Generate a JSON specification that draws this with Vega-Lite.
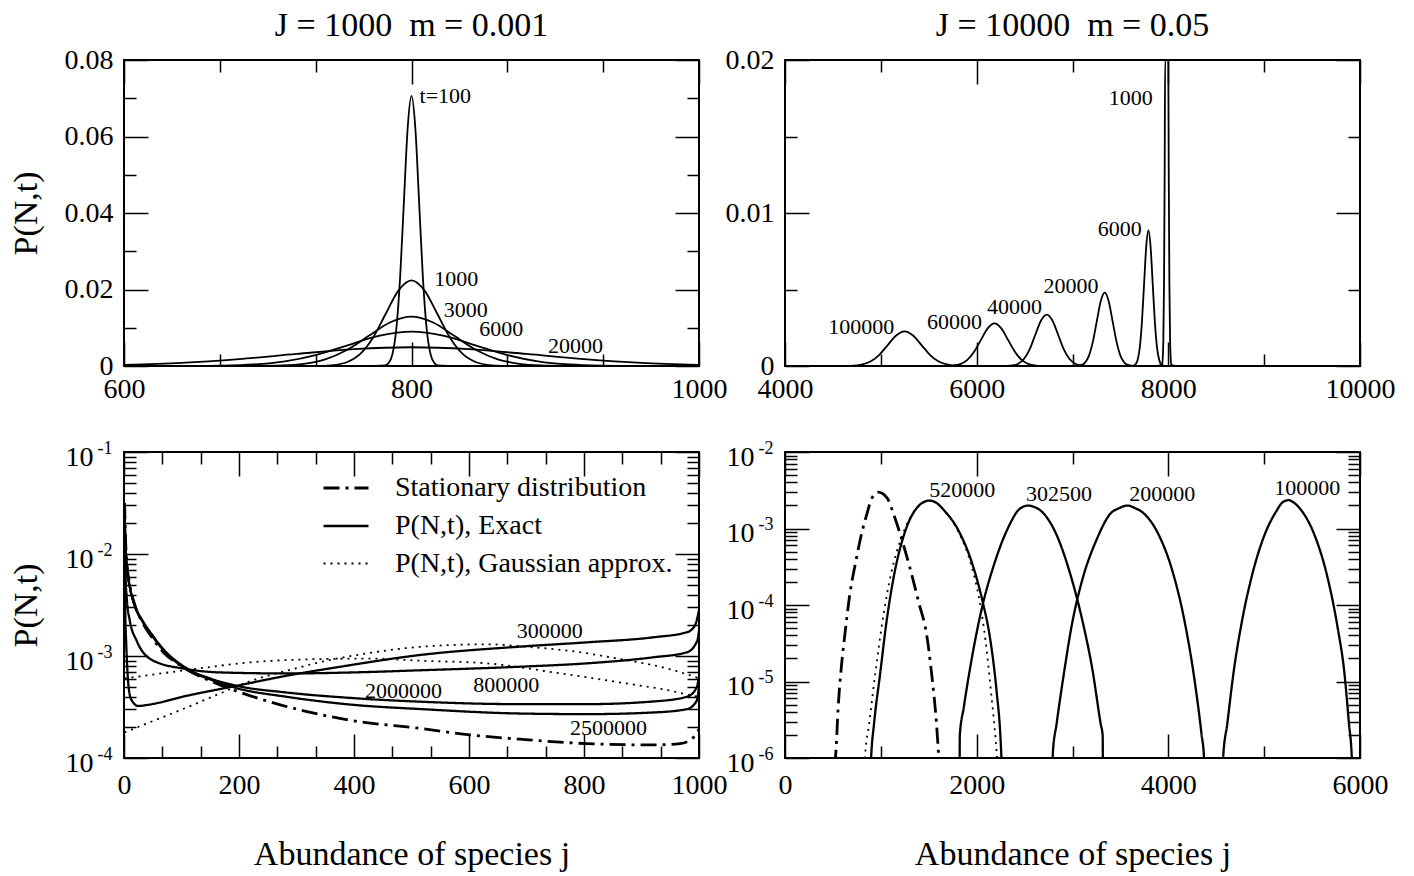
{
"$schema":"https://vega.github.io/schema/vega-lite/v6.json",
"autosize":{"type":"none"},
"padding":{"left":124,"top":60,"right":1290,"bottom":816},
"background":"white",
"datasets":{
"tl":[
{"s":"a","x":770,"y":0},{"s":"a","x":781.45,"y":0.000155},{"s":"a","x":784.1,"y":0.00078},{"s":"a","x":786.75,"y":0.0031},{"s":"a","x":789.4,"y":0.00955},{"s":"a","x":792.05,"y":0.02292},{"s":"a","x":794.7,"y":0.04282},{"s":"a","x":797.35,"y":0.0623},{"s":"a","x":800,"y":0.0706},{"s":"a","x":802.65,"y":0.0623},{"s":"a","x":805.3,"y":0.04282},{"s":"a","x":807.95,"y":0.02292},{"s":"a","x":810.6,"y":0.00955},{"s":"a","x":813.25,"y":0.0031},{"s":"a","x":815.9,"y":0.00078},{"s":"a","x":818.55,"y":0.000155},{"s":"a","x":830,"y":0},
{"s":"b","x":720,"y":0},{"s":"b","x":737,"y":0.00005},{"s":"b","x":746,"y":0.00025},{"s":"b","x":755,"y":0.00098},{"s":"b","x":764,"y":0.00303},{"s":"b","x":773,"y":0.00727},{"s":"b","x":782,"y":0.01359},{"s":"b","x":791,"y":0.01977},{"s":"b","x":800,"y":0.0224},{"s":"b","x":809,"y":0.01977},{"s":"b","x":818,"y":0.01359},{"s":"b","x":827,"y":0.00727},{"s":"b","x":836,"y":0.00303},{"s":"b","x":845,"y":0.00098},{"s":"b","x":854,"y":0.00025},{"s":"b","x":863,"y":0.00005},{"s":"b","x":880,"y":0},
{"s":"c","x":670,"y":0},{"s":"c","x":695,"y":0.00003},{"s":"c","x":710,"y":0.00014},{"s":"c","x":725,"y":0.00057},{"s":"c","x":740,"y":0.00175},{"s":"c","x":755,"y":0.00419},{"s":"c","x":770,"y":0.00782},{"s":"c","x":785,"y":0.01138},{"s":"c","x":800,"y":0.0129},{"s":"c","x":815,"y":0.01138},{"s":"c","x":830,"y":0.00782},{"s":"c","x":845,"y":0.00419},{"s":"c","x":860,"y":0.00175},{"s":"c","x":875,"y":0.00057},{"s":"c","x":890,"y":0.00014},{"s":"c","x":905,"y":0.00003},{"s":"c","x":930,"y":0},
{"s":"d","x":610,"y":0},{"s":"d","x":646,"y":0.00002},{"s":"d","x":668,"y":0.0001},{"s":"d","x":690,"y":0.000395},{"s":"d","x":712,"y":0.00122},{"s":"d","x":734,"y":0.00292},{"s":"d","x":756,"y":0.00546},{"s":"d","x":778,"y":0.00794},{"s":"d","x":800,"y":0.009},{"s":"d","x":822,"y":0.00794},{"s":"d","x":844,"y":0.00546},{"s":"d","x":866,"y":0.00292},{"s":"d","x":888,"y":0.00122},{"s":"d","x":910,"y":0.000395},{"s":"d","x":932,"y":0.0001},{"s":"d","x":954,"y":0.00002},{"s":"d","x":990,"y":0},
{"s":"e","x":600,"y":0.00031},{"s":"e","x":640,"y":0.00083},{"s":"e","x":680,"y":0.00181},{"s":"e","x":720,"y":0.00315},{"s":"e","x":760,"y":0.00439},{"s":"e","x":800,"y":0.0049},{"s":"e","x":840,"y":0.00439},{"s":"e","x":880,"y":0.00315},{"s":"e","x":920,"y":0.00181},{"s":"e","x":960,"y":0.00083},{"s":"e","x":1000,"y":0.00031}
],
"tl_t":[{"x":805.6,"y":0.0706,"t":"t=100"},{"x":815.9,"y":0.0227,"t":"1000"},{"x":822.5,"y":0.0146,"t":"3000"},{"x":847.1,"y":0.0096,"t":"6000"},{"x":894.9,"y":0.0052,"t":"20000"}],
"tr":[
{"s":"a","x":7880,"y":0},{"s":"a","x":7934,"y":0.000088},{"s":"a","x":7941,"y":0.000444},{"s":"a","x":7948,"y":0.001756},{"s":"a","x":7955,"y":0.005412},{"s":"a","x":7962,"y":0.01299},{"s":"a","x":7966.5,"y":0.02},{"s":"a","x":7999.5,"y":0.02},{"s":"a","x":8004,"y":0.01299},{"s":"a","x":8011,"y":0.005412},{"s":"a","x":8018,"y":0.001756},{"s":"a","x":8025,"y":0.000444},{"s":"a","x":8032,"y":0.000088},{"s":"a","x":8080,"y":0},
{"s":"b","x":7600,"y":0},{"s":"b","x":7634.5,"y":0.00002},{"s":"b","x":7657,"y":0.0001},{"s":"b","x":7679.5,"y":0.00039},{"s":"b","x":7702,"y":0.0012},{"s":"b","x":7724.5,"y":0.00288},{"s":"b","x":7747,"y":0.00537},{"s":"b","x":7769.5,"y":0.00782},{"s":"b","x":7792,"y":0.00886},{"s":"b","x":7814.5,"y":0.00782},{"s":"b","x":7837,"y":0.00537},{"s":"b","x":7859.5,"y":0.00288},{"s":"b","x":7882,"y":0.0012},{"s":"b","x":7904.5,"y":0.00039},{"s":"b","x":7927,"y":0.0001},{"s":"b","x":7949.5,"y":0.00002},{"s":"b","x":7980,"y":0},
{"s":"c","x":7000,"y":0},{"s":"c","x":7045.5,"y":0.00001},{"s":"c","x":7087,"y":0.00005},{"s":"c","x":7128.5,"y":0.00021},{"s":"c","x":7170,"y":0.00065},{"s":"c","x":7211.5,"y":0.00156},{"s":"c","x":7253,"y":0.00291},{"s":"c","x":7294.5,"y":0.00423},{"s":"c","x":7336,"y":0.00479},{"s":"c","x":7377.5,"y":0.00423},{"s":"c","x":7419,"y":0.00291},{"s":"c","x":7460.5,"y":0.00156},{"s":"c","x":7502,"y":0.00065},{"s":"c","x":7543.5,"y":0.00021},{"s":"c","x":7585,"y":0.00005},{"s":"c","x":7626.5,"y":0.00001},{"s":"c","x":7680,"y":0},
{"s":"d","x":6250,"y":0},{"s":"d","x":6314.5,"y":0.000007},{"s":"d","x":6374,"y":0.000037},{"s":"d","x":6433.5,"y":0.00015},{"s":"d","x":6493,"y":0.000455},{"s":"d","x":6552.5,"y":0.00109},{"s":"d","x":6612,"y":0.00204},{"s":"d","x":6671.5,"y":0.00297},{"s":"d","x":6731,"y":0.00336},{"s":"d","x":6790.5,"y":0.00297},{"s":"d","x":6850,"y":0.00204},{"s":"d","x":6909.5,"y":0.00109},{"s":"d","x":6969,"y":0.000455},{"s":"d","x":7028.5,"y":0.00015},{"s":"d","x":7088,"y":0.000037},{"s":"d","x":7147.5,"y":0.000007},{"s":"d","x":7220,"y":0},
{"s":"e","x":5600,"y":0},{"s":"e","x":5685.5,"y":0.000006},{"s":"e","x":5757,"y":0.000031},{"s":"e","x":5828.5,"y":0.00012},{"s":"e","x":5900,"y":0.00038},{"s":"e","x":5971.5,"y":0.00091},{"s":"e","x":6043,"y":0.00169},{"s":"e","x":6114.5,"y":0.00246},{"s":"e","x":6186,"y":0.00279},{"s":"e","x":6257.5,"y":0.00246},{"s":"e","x":6329,"y":0.00169},{"s":"e","x":6400.5,"y":0.00091},{"s":"e","x":6472,"y":0.00038},{"s":"e","x":6543.5,"y":0.00012},{"s":"e","x":6615,"y":0.000031},{"s":"e","x":6686.5,"y":0.000006},{"s":"e","x":6780,"y":0},
{"s":"f","x":4000,"y":0},{"s":"f","x":4632,"y":0.000005},{"s":"f","x":4720,"y":0.000025},{"s":"f","x":4808,"y":0.0001},{"s":"f","x":4896,"y":0.00031},{"s":"f","x":4984,"y":0.00073},{"s":"f","x":5072,"y":0.00137},{"s":"f","x":5160,"y":0.00199},{"s":"f","x":5248,"y":0.00226},{"s":"f","x":5336,"y":0.00199},{"s":"f","x":5424,"y":0.00137},{"s":"f","x":5512,"y":0.00073},{"s":"f","x":5600,"y":0.00031},{"s":"f","x":5688,"y":0.0001},{"s":"f","x":5776,"y":0.000025},{"s":"f","x":5864,"y":0.000005},{"s":"f","x":6000,"y":0}
],
"tr_t":[{"x":7379,"y":0.0175,"t":"1000"},{"x":7264,"y":0.00895,"t":"6000"},{"x":6697,"y":0.0052,"t":"20000"},{"x":6109,"y":0.00385,"t":"40000"},{"x":5483,"y":0.0029,"t":"60000"},{"x":4452,"y":0.00257,"t":"100000"}],
"bl":[
{"s":"st","k":"S","x":1,"y":0.03162},{"s":"st","k":"S","x":3,"y":0.01259},{"s":"st","k":"S","x":6,"y":0.007079},{"s":"st","k":"S","x":10,"y":0.005012},{"s":"st","k":"S","x":20,"y":0.00302},{"s":"st","k":"S","x":32,"y":0.002138},{"s":"st","k":"S","x":50,"y":0.001479},{"s":"st","k":"S","x":68,"y":0.001096},{"s":"st","k":"S","x":100,"y":0.0007943},{"s":"st","k":"S","x":148,"y":0.0005754},{"s":"st","k":"S","x":184,"y":0.0004786},{"s":"st","k":"S","x":260,"y":0.0003467},{"s":"st","k":"S","x":318,"y":0.0002851},{"s":"st","k":"S","x":399,"y":0.0002317},{"s":"st","k":"S","x":515,"y":0.000195},{"s":"st","k":"S","x":602,"y":0.0001683},{"s":"st","k":"S","x":689,"y":0.0001528},{"s":"st","k":"S","x":805,"y":0.0001384},{"s":"st","k":"S","x":920,"y":0.0001343},{"s":"st","k":"S","x":967,"y":0.0001384},{"s":"st","k":"S","x":990,"y":0.0001585},{"s":"st","k":"S","x":1000,"y":0.0001905},
{"s":"a3","k":"E","x":1,"y":0.01585},{"s":"a3","k":"E","x":2,"y":0.003162},{"s":"a3","k":"E","x":4,"y":0.001259},{"s":"a3","k":"E","x":6,"y":0.0007079},{"s":"a3","k":"E","x":9,"y":0.0004467},{"s":"a3","k":"E","x":14,"y":0.0003631},{"s":"a3","k":"E","x":25,"y":0.0003236},{"s":"a3","k":"E","x":40,"y":0.0003311},{"s":"a3","k":"E","x":109,"y":0.0004074},{"s":"a3","k":"E","x":196,"y":0.0005105},{"s":"a3","k":"E","x":283,"y":0.0006412},{"s":"a3","k":"E","x":370,"y":0.0007745},{"s":"a3","k":"E","x":515,"y":0.001023},{"s":"a3","k":"E","x":689,"y":0.001236},{"s":"a3","k":"E","x":805,"y":0.001361},{"s":"a3","k":"E","x":920,"y":0.001524},{"s":"a3","k":"E","x":979,"y":0.00171},{"s":"a3","k":"E","x":993,"y":0.001995},{"s":"a3","k":"E","x":1000,"y":0.002818},
{"s":"a8","k":"E","x":1,"y":0.01995},{"s":"a8","k":"E","x":2,"y":0.007943},{"s":"a8","k":"E","x":5,"y":0.003548},{"s":"a8","k":"E","x":10,"y":0.002239},{"s":"a8","k":"E","x":22,"y":0.001413},{"s":"a8","k":"E","x":51,"y":0.0008995},{"s":"a8","k":"E","x":109,"y":0.0007447},{"s":"a8","k":"E","x":167,"y":0.0006902},{"s":"a8","k":"E","x":283,"y":0.0006745},{"s":"a8","k":"E","x":399,"y":0.0006902},{"s":"a8","k":"E","x":515,"y":0.0007244},{"s":"a8","k":"E","x":689,"y":0.0007852},{"s":"a8","k":"E","x":805,"y":0.0008472},{"s":"a8","k":"E","x":920,"y":0.0009705},{"s":"a8","k":"E","x":979,"y":0.001086},{"s":"a8","k":"E","x":997,"y":0.001413},{"s":"a8","k":"E","x":1000,"y":0.001778},
{"s":"a20","k":"E","x":1,"y":0.02512},{"s":"a20","k":"E","x":3,"y":0.01122},{"s":"a20","k":"E","x":6,"y":0.006607},{"s":"a20","k":"E","x":10,"y":0.004786},{"s":"a20","k":"E","x":20,"y":0.00302},{"s":"a20","k":"E","x":32,"y":0.002239},{"s":"a20","k":"E","x":50,"y":0.001585},{"s":"a20","k":"E","x":68,"y":0.001175},{"s":"a20","k":"E","x":109,"y":0.0007586},{"s":"a20","k":"E","x":150,"y":0.0006026},{"s":"a20","k":"E","x":196,"y":0.0005105},{"s":"a20","k":"E","x":283,"y":0.0004385},{"s":"a20","k":"E","x":399,"y":0.0003864},{"s":"a20","k":"E","x":515,"y":0.0003565},{"s":"a20","k":"E","x":689,"y":0.0003373},{"s":"a20","k":"E","x":805,"y":0.0003373},{"s":"a20","k":"E","x":920,"y":0.0003581},{"s":"a20","k":"E","x":979,"y":0.0003981},{"s":"a20","k":"E","x":996,"y":0.000492},{"s":"a20","k":"E","x":1000,"y":0.000631},
{"s":"a25","k":"E","x":1,"y":0.02512},{"s":"a25","k":"E","x":3,"y":0.01122},{"s":"a25","k":"E","x":6,"y":0.006607},{"s":"a25","k":"E","x":10,"y":0.004786},{"s":"a25","k":"E","x":20,"y":0.002951},{"s":"a25","k":"E","x":32,"y":0.002188},{"s":"a25","k":"E","x":50,"y":0.001549},{"s":"a25","k":"E","x":68,"y":0.001148},{"s":"a25","k":"E","x":109,"y":0.0007413},{"s":"a25","k":"E","x":150,"y":0.0005888},{"s":"a25","k":"E","x":196,"y":0.0004842},{"s":"a25","k":"E","x":283,"y":0.0003981},{"s":"a25","k":"E","x":399,"y":0.0003319},{"s":"a25","k":"E","x":515,"y":0.000302},{"s":"a25","k":"E","x":689,"y":0.0002729},{"s":"a25","k":"E","x":805,"y":0.0002692},{"s":"a25","k":"E","x":920,"y":0.0002793},{"s":"a25","k":"E","x":979,"y":0.0003013},{"s":"a25","k":"E","x":996,"y":0.0003639},{"s":"a25","k":"E","x":1000,"y":0.0005012},
{"s":"g1","k":"G","x":1,"y":0.0006026},{"s":"g1","k":"G","x":109,"y":0.0007278},{"s":"g1","k":"G","x":225,"y":0.000871},{"s":"g1","k":"G","x":341,"y":0.0009333},{"s":"g1","k":"G","x":430,"y":0.0009441},{"s":"g1","k":"G","x":515,"y":0.0008995},{"s":"g1","k":"G","x":631,"y":0.0008472},{"s":"g1","k":"G","x":747,"y":0.0006918},{"s":"g1","k":"G","x":863,"y":0.0005495},{"s":"g1","k":"G","x":950,"y":0.0004571},{"s":"g1","k":"G","x":990,"y":0.0004074},{"s":"g1","k":"G","x":1000,"y":0.0003981},
{"s":"g2","k":"G","x":1,"y":0.0001778},{"s":"g2","k":"G","x":51,"y":0.0002312},{"s":"g2","k":"G","x":109,"y":0.0003126},{"s":"g2","k":"G","x":167,"y":0.0004295},{"s":"g2","k":"G","x":225,"y":0.0005808},{"s":"g2","k":"G","x":283,"y":0.0007161},{"s":"g2","k":"G","x":341,"y":0.000871},{"s":"g2","k":"G","x":399,"y":0.001009},{"s":"g2","k":"G","x":515,"y":0.00123},{"s":"g2","k":"G","x":632,"y":0.001303},{"s":"g2","k":"G","x":700,"y":0.00123},{"s":"g2","k":"G","x":776,"y":0.001122},{"s":"g2","k":"G","x":863,"y":0.0009333},{"s":"g2","k":"G","x":950,"y":0.0007413},{"s":"g2","k":"G","x":990,"y":0.000631},{"s":"g2","k":"G","x":1000,"y":0.0006026}
],
"bl_t":[{"x":683,"y":0.001774,"t":"300000"},{"x":607.5,"y":0.0005188,"t":"800000"},{"x":419,"y":0.000456,"t":"2000000"},{"x":775.7,"y":0.0001986,"t":"2500000"}],
"br":[
{"s":"st","k":"S","x":520,"y":7.943e-7},{"s":"st","k":"S","x":533,"y":1.318e-6},{"s":"st","k":"S","x":554,"y":4.395e-6},{"s":"st","k":"S","x":588,"y":1.549e-5},{"s":"st","k":"S","x":622,"y":3.837e-5},{"s":"st","k":"S","x":678,"y":1.422e-4},{"s":"st","k":"S","x":737,"y":3.597e-4},{"s":"st","k":"S","x":805,"y":9.183e-4},{"s":"st","k":"S","x":850,"y":1.479e-3},{"s":"st","k":"S","x":908,"y":2.512e-3},{"s":"st","k":"S","x":971,"y":2.985e-3},{"s":"st","k":"S","x":1065,"y":2.512e-3},{"s":"st","k":"S","x":1130,"y":1.585e-3},{"s":"st","k":"S","x":1193,"y":9.183e-4},{"s":"st","k":"S","x":1300,"y":3.184e-4},{"s":"st","k":"S","x":1398,"y":1.052e-4},{"s":"st","k":"S","x":1479,"y":4.036e-5},{"s":"st","k":"S","x":1530,"y":1.268e-5},{"s":"st","k":"S","x":1581,"y":2.793e-6},{"s":"st","k":"S","x":1602,"y":1.13e-6},{"s":"st","k":"S","x":1610,"y":7.943e-7},
{"s":"b52","k":"E","x":895,"y":7.943e-7},{"s":"b52","k":"E","x":899,"y":1.023e-6},{"s":"b52","k":"E","x":929,"y":2.793e-6},{"s":"b52","k":"E","x":993,"y":1.268e-5},{"s":"b52","k":"E","x":1057,"y":5.754e-5},{"s":"b52","k":"E","x":1142,"y":2.606e-4},{"s":"b52","k":"E","x":1248,"y":8.73e-4},{"s":"b52","k":"E","x":1376,"y":1.862e-3},{"s":"b52","k":"E","x":1440,"y":2.188e-3},{"s":"b52","k":"E","x":1504,"y":2.317e-3},{"s":"b52","k":"E","x":1580,"y":2.163e-3},{"s":"b52","k":"E","x":1653,"y":1.766e-3},{"s":"b52","k":"E","x":1824,"y":8.73e-4},{"s":"b52","k":"E","x":1952,"y":3.524e-4},{"s":"b52","k":"E","x":2058,"y":1.164e-4},{"s":"b52","k":"E","x":2143,"y":3.467e-5},{"s":"b52","k":"E","x":2207,"y":7.656e-6},{"s":"b52","k":"E","x":2250,"y":1.698e-6},{"s":"b52","k":"E","x":2262,"y":7.943e-7},
{"s":"g52","k":"G","x":830,"y":7.943e-7},{"s":"g52","k":"G","x":835,"y":1.023e-6},{"s":"g52","k":"G","x":878,"y":2.793e-6},{"s":"g52","k":"G","x":942,"y":1.268e-5},{"s":"g52","k":"G","x":1014,"y":5.754e-5},{"s":"g52","k":"G","x":1108,"y":2.606e-4},{"s":"g52","k":"G","x":1227,"y":8.318e-4},{"s":"g52","k":"G","x":1376,"y":1.862e-3},{"s":"g52","k":"G","x":1440,"y":2.188e-3},{"s":"g52","k":"G","x":1500,"y":2.317e-3},{"s":"g52","k":"G","x":1580,"y":2.163e-3},{"s":"g52","k":"G","x":1653,"y":1.766e-3},{"s":"g52","k":"G","x":1824,"y":8.318e-4},{"s":"g52","k":"G","x":1943,"y":3.35e-4},{"s":"g52","k":"G","x":2028,"y":1.164e-4},{"s":"g52","k":"G","x":2092,"y":3.467e-5},{"s":"g52","k":"G","x":2148,"y":7.656e-6},{"s":"g52","k":"G","x":2199,"y":1.698e-6},{"s":"g52","k":"G","x":2220,"y":7.943e-7},
{"s":"b30","k":"E","x":1822,"y":6.31e-7},{"s":"b30","k":"E","x":1824,"y":1.963e-6},{"s":"b30","k":"E","x":1866,"y":4.624e-6},{"s":"b30","k":"E","x":1952,"y":2.099e-5},{"s":"b30","k":"E","x":2058,"y":9.506e-5},{"s":"b30","k":"E","x":2186,"y":3.524e-4},{"s":"b30","k":"E","x":2335,"y":1.067e-3},{"s":"b30","k":"E","x":2441,"y":1.766e-3},{"s":"b30","k":"E","x":2535,"y":1.995e-3},{"s":"b30","k":"E","x":2605,"y":1.905e-3},{"s":"b30","k":"E","x":2676,"y":1.679e-3},{"s":"b30","k":"E","x":2825,"y":8.73e-4},{"s":"b30","k":"E","x":2974,"y":2.606e-4},{"s":"b30","k":"E","x":3102,"y":6.353e-5},{"s":"b30","k":"E","x":3209,"y":1.403e-5},{"s":"b30","k":"E","x":3294,"y":2.793e-6},{"s":"b30","k":"E","x":3315,"y":1.963e-6},{"s":"b30","k":"E","x":3317,"y":6.31e-7},
{"s":"b20","k":"E","x":2790,"y":6.31e-7},{"s":"b20","k":"E","x":2795,"y":1.175e-6},{"s":"b20","k":"E","x":2834,"y":2.793e-6},{"s":"b20","k":"E","x":2910,"y":1.268e-5},{"s":"b20","k":"E","x":2996,"y":5.754e-5},{"s":"b20","k":"E","x":3102,"y":2.128e-4},{"s":"b20","k":"E","x":3251,"y":7.129e-4},{"s":"b20","k":"E","x":3400,"y":1.585e-3},{"s":"b20","k":"E","x":3485,"y":1.841e-3},{"s":"b20","k":"E","x":3571,"y":1.995e-3},{"s":"b20","k":"E","x":3656,"y":1.841e-3},{"s":"b20","k":"E","x":3741,"y":1.585e-3},{"s":"b20","k":"E","x":3890,"y":8.73e-4},{"s":"b20","k":"E","x":4039,"y":2.884e-4},{"s":"b20","k":"E","x":4167,"y":6.353e-5},{"s":"b20","k":"E","x":4274,"y":1.035e-5},{"s":"b20","k":"E","x":4346,"y":2.065e-6},{"s":"b20","k":"E","x":4372,"y":1.023e-6},{"s":"b20","k":"E","x":4376,"y":6.31e-7},
{"s":"b10","k":"E","x":4568,"y":6.31e-7},{"s":"b10","k":"E","x":4572,"y":1.023e-6},{"s":"b10","k":"E","x":4615,"y":2.793e-6},{"s":"b10","k":"E","x":4679,"y":1.268e-5},{"s":"b10","k":"E","x":4764,"y":5.754e-5},{"s":"b10","k":"E","x":4870,"y":2.355e-4},{"s":"b10","k":"E","x":4998,"y":7.889e-4},{"s":"b10","k":"E","x":5126,"y":1.679e-3},{"s":"b10","k":"E","x":5190,"y":2.188e-3},{"s":"b10","k":"E","x":5254,"y":2.344e-3},{"s":"b10","k":"E","x":5318,"y":2.138e-3},{"s":"b10","k":"E","x":5382,"y":1.766e-3},{"s":"b10","k":"E","x":5531,"y":7.889e-4},{"s":"b10","k":"E","x":5659,"y":2.355e-4},{"s":"b10","k":"E","x":5765,"y":5.2e-5},{"s":"b10","k":"E","x":5838,"y":1.268e-5},{"s":"b10","k":"E","x":5885,"y":2.793e-6},{"s":"b10","k":"E","x":5914,"y":1.023e-6},{"s":"b10","k":"E","x":5920,"y":6.31e-7}
],
"br_t":[{"x":1504,"y":0.003162,"t":"520000"},{"x":2514,"y":0.00281,"t":"302500"},{"x":3592,"y":0.00281,"t":"200000"},{"x":5105,"y":0.00334,"t":"100000"}]
},
"concat":[
{
"width":575,"height":306,
"title":{"text":"J = 1000 \u00a0m = 0.001"},
"data":{"name":"tl"},
"layer":[
{"mark":{"type":"line","interpolate":"monotone","clip":true,"color":"black","strokeWidth":1.8},
 "encoding":{
 "x":{"field":"x","type":"quantitative","scale":{"domain":[600,1000],"nice":false,"zero":false},"axis":{"orient":"bottom","values":[600,800,1000],"ticks":false,"labelPadding":9,"labelFlush":false,"labelOverlap":false,"format":"d","title":null}},
 "y":{"field":"y","type":"quantitative","scale":{"domain":[0,0.08],"nice":false},"axis":{"orient":"left","values":[0,0.02,0.04,0.06,0.08],"ticks":false,"labelPadding":11,"labelFlush":false,"labelOverlap":false,"labelExpr":"datum.value == 0 ? '0' : format(datum.value, '.2f')","title":"P(N,t)","titleX":-98,"titleY":153,"titleBaseline":"middle","titleAngle":270}},
 "detail":{"field":"s"}}},
{"mark":{"type":"point","opacity":0},
 "encoding":{
 "x":{"field":"x","type":"quantitative","scale":{"domain":[600,1000],"nice":false,"zero":false},"axis":{"orient":"bottom","values":[600,800,1000],"labels":false,"tickSize":-24,"title":null}},
 "y":{"field":"y","type":"quantitative","scale":{"domain":[0,0.08],"nice":false},"axis":{"orient":"left","values":[0,0.02,0.04,0.06,0.08],"labels":false,"tickSize":-24,"title":null}}}},
{"mark":{"type":"point","opacity":0},
 "encoding":{
 "x":{"field":"x","type":"quantitative","scale":{"domain":[600,1000],"nice":false,"zero":false},"axis":{"orient":"top","values":[600,800,1000],"labels":false,"tickSize":-24,"title":null}},
 "y":{"field":"y","type":"quantitative","scale":{"domain":[0,0.08],"nice":false},"axis":{"orient":"right","values":[0,0.02,0.04,0.06,0.08],"labels":false,"tickSize":-24,"title":null}}}},
{"mark":{"type":"point","opacity":0},
 "encoding":{
 "x":{"field":"x","type":"quantitative","scale":{"domain":[600,1000],"nice":false,"zero":false},"axis":{"orient":"bottom","values":[666.67,733.33,866.67,933.33],"labels":false,"tickSize":-12,"title":null}},
 "y":{"field":"y","type":"quantitative","scale":{"domain":[0,0.08],"nice":false},"axis":{"orient":"left","values":[0.01,0.03,0.05,0.07],"labels":false,"tickSize":-12,"title":null}}}},
{"mark":{"type":"point","opacity":0},
 "encoding":{
 "x":{"field":"x","type":"quantitative","scale":{"domain":[600,1000],"nice":false,"zero":false},"axis":{"orient":"top","values":[666.67,733.33,866.67,933.33],"labels":false,"tickSize":-12,"title":null}},
 "y":{"field":"y","type":"quantitative","scale":{"domain":[0,0.08],"nice":false},"axis":{"orient":"right","values":[0.01,0.03,0.05,0.07],"labels":false,"tickSize":-12,"title":null}}}},
{"data":{"name":"tl_t"},"mark":{"type":"text","align":"left","baseline":"middle","fontSize":22,"font":"Liberation Serif","color":"black"},
 "encoding":{
 "x":{"field":"x","type":"quantitative","scale":{"domain":[600,1000],"nice":false,"zero":false},"axis":null},
 "y":{"field":"y","type":"quantitative","scale":{"domain":[0,0.08],"nice":false},"axis":null},
 "text":{"field":"t"}}}
],
"resolve":{"axis":{"x":"independent","y":"independent"}}
},
{
"width":575,"height":306,
"title":{"text":"J = 10000 \u00a0m = 0.05"},
"data":{"name":"tr"},
"layer":[
{"mark":{"type":"line","interpolate":"monotone","clip":true,"color":"black","strokeWidth":1.8},
 "encoding":{
 "x":{"field":"x","type":"quantitative","scale":{"domain":[4000,10000],"nice":false,"zero":false},"axis":{"orient":"bottom","values":[4000,6000,8000,10000],"ticks":false,"labelPadding":9,"labelFlush":false,"labelOverlap":false,"format":"d","title":null}},
 "y":{"field":"y","type":"quantitative","scale":{"domain":[0,0.02],"nice":false},"axis":{"orient":"left","values":[0,0.01,0.02],"ticks":false,"labelPadding":11,"labelFlush":false,"labelOverlap":false,"labelExpr":"datum.value == 0 ? '0' : format(datum.value, '.2f')","title":null}},
 "detail":{"field":"s"}}},
{"mark":{"type":"point","opacity":0},
 "encoding":{
 "x":{"field":"x","type":"quantitative","scale":{"domain":[4000,10000],"nice":false,"zero":false},"axis":{"orient":"bottom","values":[4000,6000,8000,10000],"labels":false,"tickSize":-24,"title":null}},
 "y":{"field":"y","type":"quantitative","scale":{"domain":[0,0.02],"nice":false},"axis":{"orient":"left","values":[0,0.01,0.02],"labels":false,"tickSize":-24,"title":null}}}},
{"mark":{"type":"point","opacity":0},
 "encoding":{
 "x":{"field":"x","type":"quantitative","scale":{"domain":[4000,10000],"nice":false,"zero":false},"axis":{"orient":"top","values":[4000,6000,8000,10000],"labels":false,"tickSize":-24,"title":null}},
 "y":{"field":"y","type":"quantitative","scale":{"domain":[0,0.02],"nice":false},"axis":{"orient":"right","values":[0,0.01,0.02],"labels":false,"tickSize":-24,"title":null}}}},
{"mark":{"type":"point","opacity":0},
 "encoding":{
 "x":{"field":"x","type":"quantitative","scale":{"domain":[4000,10000],"nice":false,"zero":false},"axis":{"orient":"bottom","values":[5000,7000,9000],"labels":false,"tickSize":-12,"title":null}},
 "y":{"field":"y","type":"quantitative","scale":{"domain":[0,0.02],"nice":false},"axis":{"orient":"left","values":[0.005,0.015],"labels":false,"tickSize":-12,"title":null}}}},
{"mark":{"type":"point","opacity":0},
 "encoding":{
 "x":{"field":"x","type":"quantitative","scale":{"domain":[4000,10000],"nice":false,"zero":false},"axis":{"orient":"top","values":[5000,7000,9000],"labels":false,"tickSize":-12,"title":null}},
 "y":{"field":"y","type":"quantitative","scale":{"domain":[0,0.02],"nice":false},"axis":{"orient":"right","values":[0.005,0.015],"labels":false,"tickSize":-12,"title":null}}}},
{"data":{"name":"tr_t"},"mark":{"type":"text","align":"left","baseline":"middle","fontSize":22,"font":"Liberation Serif","color":"black"},
 "encoding":{
 "x":{"field":"x","type":"quantitative","scale":{"domain":[4000,10000],"nice":false,"zero":false},"axis":null},
 "y":{"field":"y","type":"quantitative","scale":{"domain":[0,0.02],"nice":false},"axis":null},
 "text":{"field":"t"}}}
],
"resolve":{"axis":{"x":"independent","y":"independent"}}
},
{
"width":575,"height":306,
"data":{"name":"bl"},
"layer":[
{"mark":{"type":"line","interpolate":"monotone","clip":true,"color":"black"},
 "encoding":{
 "x":{"field":"x","type":"quantitative","scale":{"domain":[0,1000],"nice":false},"axis":{"orient":"bottom","values":[0,200,400,600,800,1000],"ticks":false,"labelPadding":13,"labelFlush":false,"labelOverlap":false,"format":"d","title":"Abundance of species j","titleX":287.5,"titleY":96,"titleBaseline":"middle"}},
 "y":{"field":"y","type":"quantitative","scale":{"type":"log","domain":[0.0001,0.1],"nice":false},"axis":{"orient":"left","values":[0.0001,0.001,0.01,0.1],"ticks":false,"labelPadding":31,"labelOffset":5,"labelFlush":false,"labelOverlap":false,"labelExpr":"'10'","title":"P(N,t)","titleX":-98,"titleY":153,"titleBaseline":"middle","titleAngle":270}},
 "detail":{"field":"s"},
 "strokeDash":{"field":"k","type":"ordinal","scale":{"domain":["S","E","G"],"range":[[16,6,3,6],[1,0],[2,5]]},"legend":{"orient":"none","legendX":198,"legendY":12,"title":null,"symbolType":"stroke","symbolSize":2025,"symbolStrokeColor":"black","labelFont":"Liberation Serif","labelFontSize":28,"labelColor":"black","labelOffset":25,"rowPadding":-10,"labelLimit":600,"padding":0,"labelExpr":"datum.label == 'S' ? 'Stationary distribution' : datum.label == 'E' ? 'P(N,t), Exact' : 'P(N,t), Gaussian approx.'"}},
 "strokeWidth":{"field":"k","type":"ordinal","scale":{"domain":["S","E","G"],"range":[2.8,1.8,1.8]},"legend":{"orient":"none","legendX":198,"legendY":12,"title":null,"symbolType":"stroke","symbolSize":2025,"symbolStrokeColor":"black","labelFont":"Liberation Serif","labelFontSize":28,"labelColor":"black","labelOffset":25,"rowPadding":-10,"labelLimit":600,"padding":0,"labelExpr":"datum.label == 'S' ? 'Stationary distribution' : datum.label == 'E' ? 'P(N,t), Exact' : 'P(N,t), Gaussian approx.'"}}}},
{"mark":{"type":"point","opacity":0},
 "encoding":{
 "x":{"field":"x","type":"quantitative","scale":{"domain":[0,1000],"nice":false},"axis":null},
 "y":{"field":"y","type":"quantitative","scale":{"type":"log","domain":[0.0001,0.1],"nice":false},"axis":{"orient":"left","values":[0.0001,0.001,0.01,0.1],"ticks":false,"labelPadding":12,"labelOffset":-4,"labelFontSize":18,"labelFlush":false,"labelOverlap":false,"labelExpr":"'-' + round(-log(datum.value)/LN10)","title":null}}}},
{"mark":{"type":"point","opacity":0},
 "encoding":{
 "x":{"field":"x","type":"quantitative","scale":{"domain":[0,1000],"nice":false},"axis":{"orient":"bottom","values":[0,200,400,600,800,1000],"labels":false,"tickSize":-24,"title":null}},
 "y":{"field":"y","type":"quantitative","scale":{"type":"log","domain":[0.0001,0.1],"nice":false},"axis":{"orient":"left","values":[0.0001,0.001,0.01,0.1],"labels":false,"tickSize":-24,"title":null}}}},
{"mark":{"type":"point","opacity":0},
 "encoding":{
 "x":{"field":"x","type":"quantitative","scale":{"domain":[0,1000],"nice":false},"axis":{"orient":"top","values":[0,200,400,600,800,1000],"labels":false,"tickSize":-24,"title":null}},
 "y":{"field":"y","type":"quantitative","scale":{"type":"log","domain":[0.0001,0.1],"nice":false},"axis":{"orient":"right","values":[0.0001,0.001,0.01,0.1],"labels":false,"tickSize":-24,"title":null}}}},
{"mark":{"type":"point","opacity":0},
 "encoding":{
 "x":{"field":"x","type":"quantitative","scale":{"domain":[0,1000],"nice":false},"axis":{"orient":"bottom","values":[66.67,133.33,266.67,333.33,466.67,533.33,666.67,733.33,866.67,933.33],"labels":false,"tickSize":-12,"title":null}},
 "y":{"field":"y","type":"quantitative","scale":{"type":"log","domain":[0.0001,0.1],"nice":false},"axis":{"orient":"left","values":[0.0002,0.0003,0.0004,0.0005,0.0006,0.0007,0.0008,0.0009,0.002,0.003,0.004,0.005,0.006,0.007,0.008,0.009,0.02,0.03,0.04,0.05,0.06,0.07,0.08,0.09],"labels":false,"tickSize":-12,"title":null}}}},
{"mark":{"type":"point","opacity":0},
 "encoding":{
 "x":{"field":"x","type":"quantitative","scale":{"domain":[0,1000],"nice":false},"axis":{"orient":"top","values":[66.67,133.33,266.67,333.33,466.67,533.33,666.67,733.33,866.67,933.33],"labels":false,"tickSize":-12,"title":null}},
 "y":{"field":"y","type":"quantitative","scale":{"type":"log","domain":[0.0001,0.1],"nice":false},"axis":{"orient":"right","values":[0.0002,0.0003,0.0004,0.0005,0.0006,0.0007,0.0008,0.0009,0.002,0.003,0.004,0.005,0.006,0.007,0.008,0.009,0.02,0.03,0.04,0.05,0.06,0.07,0.08,0.09],"labels":false,"tickSize":-12,"title":null}}}},
{"data":{"name":"bl_t"},"mark":{"type":"text","align":"left","baseline":"middle","fontSize":22,"font":"Liberation Serif","color":"black"},
 "encoding":{
 "x":{"field":"x","type":"quantitative","scale":{"domain":[0,1000],"nice":false},"axis":null},
 "y":{"field":"y","type":"quantitative","scale":{"type":"log","domain":[0.0001,0.1],"nice":false},"axis":null},
 "text":{"field":"t"}}}
],
"resolve":{"axis":{"x":"independent","y":"independent"}}
},
{
"width":575,"height":306,
"data":{"name":"br"},
"layer":[
{"mark":{"type":"line","interpolate":"monotone","clip":true,"color":"black"},
 "encoding":{
 "x":{"field":"x","type":"quantitative","scale":{"domain":[0,6000],"nice":false},"axis":{"orient":"bottom","values":[0,2000,4000,6000],"ticks":false,"labelPadding":13,"labelFlush":false,"labelOverlap":false,"format":"d","title":"Abundance of species j","titleX":287.5,"titleY":96,"titleBaseline":"middle"}},
 "y":{"field":"y","type":"quantitative","scale":{"type":"log","domain":[0.000001,0.01],"nice":false},"axis":{"orient":"left","values":[0.000001,0.00001,0.0001,0.001,0.01],"ticks":false,"labelPadding":31,"labelOffset":5,"labelFlush":false,"labelOverlap":false,"labelExpr":"'10'","title":null}},
 "detail":{"field":"s"},
 "strokeDash":{"field":"k","type":"ordinal","scale":{"domain":["S","E","G"],"range":[[16,6,3,6],[1,0],[2,5]]},"legend":null},
 "strokeWidth":{"field":"k","type":"ordinal","scale":{"domain":["S","E","G"],"range":[2.8,1.8,1.8]},"legend":null}}},
{"mark":{"type":"point","opacity":0},
 "encoding":{
 "x":{"field":"x","type":"quantitative","scale":{"domain":[0,6000],"nice":false},"axis":null},
 "y":{"field":"y","type":"quantitative","scale":{"type":"log","domain":[0.000001,0.01],"nice":false},"axis":{"orient":"left","values":[0.000001,0.00001,0.0001,0.001,0.01],"ticks":false,"labelPadding":12,"labelOffset":-4,"labelFontSize":18,"labelFlush":false,"labelOverlap":false,"labelExpr":"'-' + round(-log(datum.value)/LN10)","title":null}}}},
{"mark":{"type":"point","opacity":0},
 "encoding":{
 "x":{"field":"x","type":"quantitative","scale":{"domain":[0,6000],"nice":false},"axis":{"orient":"bottom","values":[0,2000,4000,6000],"labels":false,"tickSize":-24,"title":null}},
 "y":{"field":"y","type":"quantitative","scale":{"type":"log","domain":[0.000001,0.01],"nice":false},"axis":{"orient":"left","values":[0.000001,0.00001,0.0001,0.001,0.01],"labels":false,"tickSize":-24,"title":null}}}},
{"mark":{"type":"point","opacity":0},
 "encoding":{
 "x":{"field":"x","type":"quantitative","scale":{"domain":[0,6000],"nice":false},"axis":{"orient":"top","values":[0,2000,4000,6000],"labels":false,"tickSize":-24,"title":null}},
 "y":{"field":"y","type":"quantitative","scale":{"type":"log","domain":[0.000001,0.01],"nice":false},"axis":{"orient":"right","values":[0.000001,0.00001,0.0001,0.001,0.01],"labels":false,"tickSize":-24,"title":null}}}},
{"mark":{"type":"point","opacity":0},
 "encoding":{
 "x":{"field":"x","type":"quantitative","scale":{"domain":[0,6000],"nice":false},"axis":{"orient":"bottom","values":[1000,3000,5000],"labels":false,"tickSize":-12,"title":null}},
 "y":{"field":"y","type":"quantitative","scale":{"type":"log","domain":[0.000001,0.01],"nice":false},"axis":{"orient":"left","values":[0.000002,0.000003,0.000004,0.000005,0.000006,0.000007,0.000008,0.000009,0.00002,0.00003,0.00004,0.00005,0.00006,0.00007,0.00008,0.00009,0.0002,0.0003,0.0004,0.0005,0.0006,0.0007,0.0008,0.0009,0.002,0.003,0.004,0.005,0.006,0.007,0.008,0.009],"labels":false,"tickSize":-12,"title":null}}}},
{"mark":{"type":"point","opacity":0},
 "encoding":{
 "x":{"field":"x","type":"quantitative","scale":{"domain":[0,6000],"nice":false},"axis":{"orient":"top","values":[1000,3000,5000],"labels":false,"tickSize":-12,"title":null}},
 "y":{"field":"y","type":"quantitative","scale":{"type":"log","domain":[0.000001,0.01],"nice":false},"axis":{"orient":"right","values":[0.000002,0.000003,0.000004,0.000005,0.000006,0.000007,0.000008,0.000009,0.00002,0.00003,0.00004,0.00005,0.00006,0.00007,0.00008,0.00009,0.0002,0.0003,0.0004,0.0005,0.0006,0.0007,0.0008,0.0009,0.002,0.003,0.004,0.005,0.006,0.007,0.008,0.009],"labels":false,"tickSize":-12,"title":null}}}},
{"data":{"name":"br_t"},"mark":{"type":"text","align":"left","baseline":"middle","fontSize":22,"font":"Liberation Serif","color":"black"},
 "encoding":{
 "x":{"field":"x","type":"quantitative","scale":{"domain":[0,6000],"nice":false},"axis":null},
 "y":{"field":"y","type":"quantitative","scale":{"type":"log","domain":[0.000001,0.01],"nice":false},"axis":null},
 "text":{"field":"t"}}}
],
"resolve":{"axis":{"x":"independent","y":"independent"}}
}
],
"columns":2,
"spacing":86,
"bounds":"flush",
"resolve":{"scale":{"strokeDash":"independent","strokeWidth":"independent"}},
"config":{
"view":{"stroke":"black","strokeWidth":2},
"axis":{"grid":false,"domain":false,"labelFont":"Liberation Serif","labelFontSize":28,"labelColor":"black","titleFont":"Liberation Serif","titleFontSize":34,"titleFontWeight":"normal","titleColor":"black","tickColor":"black","tickWidth":1.5},
"title":{"font":"Liberation Serif","fontSize":34,"fontWeight":"normal","color":"black","frame":"group","anchor":"middle","baseline":"alphabetic","offset":3},
"text":{"font":"Liberation Serif","color":"black"}
}
}
